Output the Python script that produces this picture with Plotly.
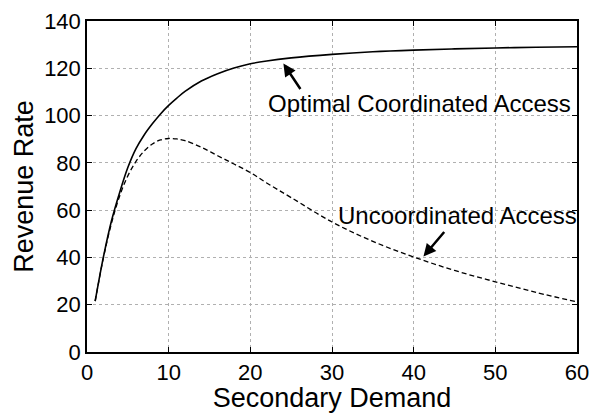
import plotly.graph_objects as go

demand = [1, 2, 3, 4, 5, 6, 7, 8, 9, 10, 11, 12, 14, 16, 18, 20, 22, 25, 30, 35, 40, 45, 50, 55, 60]
optimal = [21.5, 40, 55.5, 67.5, 78, 86, 91.8, 96.5, 100.7, 104.3, 107.4, 110.2, 114.6, 117.7, 120.1, 121.9,
           123.1, 124.4, 125.9, 127.0, 127.7, 128.2, 128.6, 128.9, 129.1]
uncoord = [21.5, 39.7, 54.5, 66, 74.5, 80.6, 85, 88, 89.7, 90.3, 90.1, 89.4, 86.6, 83, 79.5, 75.9,
           71.5, 65.3, 55, 46.8, 40.2, 34.5, 29.7, 25.2, 21.2]
x_ticks = [0, 10, 20, 30, 40, 50, 60]
y_ticks = [0, 20, 40, 60, 80, 100, 120, 140]

FONT = "Liberation Sans, Arial, Helvetica, sans-serif"

fig = go.Figure()
fig.add_trace(go.Scatter(x=demand, y=optimal, mode="lines", line=dict(color="black", width=1.6, shape="spline"),
                         name="Optimal Coordinated Access", showlegend=False))
fig.add_trace(go.Scatter(x=demand, y=uncoord, mode="lines",
                         line=dict(color="black", width=1.3, dash="5px,3px", shape="spline"),
                         name="Uncoordinated Access", showlegend=False))

fig.add_annotation(x=59.5, y=105, text="Optimal Coordinated Access", showarrow=False,
                   xanchor="right", yanchor="middle", font=dict(size=24, color="black", family=FONT))
fig.add_annotation(x=24.05, y=122.0, text="", showarrow=True, ax=18, ay=27,
                   arrowhead=2, arrowsize=1, arrowwidth=2.5, arrowcolor="black")
fig.add_annotation(x=60, y=57.6, text="Uncoordinated Access", showarrow=False, xshift=2,
                   xanchor="right", yanchor="middle", font=dict(size=24, color="black", family=FONT))
fig.add_annotation(x=41.2, y=40.4, text="", showarrow=True, ax=22, ay=-26,
                   arrowhead=2, arrowsize=1, arrowwidth=2.5, arrowcolor="black")

axis_common = dict(showline=True, linecolor="black", linewidth=1.5, mirror="ticks",
                   ticks="inside", ticklen=5, tickcolor="black", tickwidth=1,
                   showgrid=True, gridcolor="#b0b0b0", griddash="dot", gridwidth=1,
                   zeroline=False, ticklabeloverflow="allow",
                   tickfont=dict(size=22, color="black", family=FONT))

fig.update_xaxes(range=[0, 60], tickvals=x_ticks, ticktext=[str(v) for v in x_ticks],
                 title=dict(text="Secondary Demand", font=dict(size=27, color="black", family=FONT), standoff=0),
                 **axis_common)
fig.update_yaxes(range=[0, 140], tickvals=y_ticks, ticktext=[str(v) for v in y_ticks],
                 title=dict(text="Revenue Rate", font=dict(size=27, color="black", family=FONT), standoff=3),
                 **axis_common)

fig.update_layout(width=606, height=413, margin=dict(l=87, r=29, t=9, b=60),
                  plot_bgcolor="white", paper_bgcolor="white", font=dict(family=FONT, color="black"))

fig.write_html("out.html", config={"displayModeBar": False},
               post_script="document.body.style.margin='0';")
